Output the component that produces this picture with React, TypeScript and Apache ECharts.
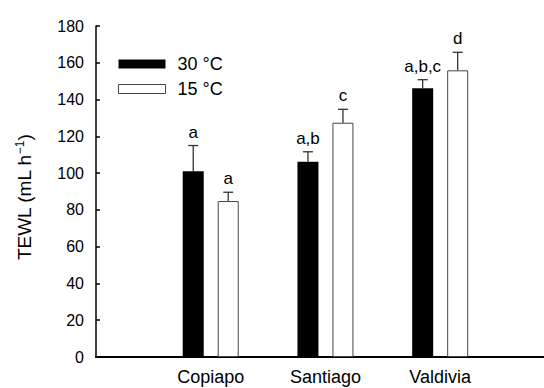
import React, { useEffect, useRef } from "react";
import * as echarts from "echarts";

const categories = ["", "Copiapo", "Santiago", "Valdivia"];
const tewl30 = [null, 101, 106.2, 146.1];
const tewl15 = [null, 84.8, 127.4, 155.9];
const err30 = [null, 14, 5.4, 4.7];
const err15 = [null, 4.8, 7.3, 9.8];
const letters30 = ["", "a", "a,b", "a,b,c"];
const letters15 = ["", "a", "c", "d"];
const seriesNames = ["30 °C", "15 °C"];
const yTicks = { min: 0, max: 180, interval: 20 };

const FONT = "'Liberation Sans', Arial, Helvetica, sans-serif";

function pairs(values: (number | null)[]) {
  const out: number[][] = [];
  values.forEach((v, i) => {
    if (v != null) out.push([i, v]);
  });
  return out;
}

function errData(means: (number | null)[], errs: (number | null)[]) {
  const out: number[][] = [];
  means.forEach((m, i) => {
    if (m != null && errs[i] != null) out.push([i, m, errs[i] as number]);
  });
  return out;
}

function errSeries(means: (number | null)[], errs: (number | null)[], letters: string[], offset: number) {
  const data = errData(means, errs);
  return {
    type: "custom",
    z: 10,
    data,
    renderItem: (params: any, api: any) => {
      const idx = api.value(0);
      const m = api.value(1);
      const e = api.value(2);
      const base = api.coord([idx, m]);
      const top = api.coord([idx, m + e]);
      const x = base[0] + offset;
      const label = letters[idx];
      return {
        type: "group",
        children: [
          { type: "line", shape: { x1: x, y1: base[1], x2: x, y2: top[1] }, style: { stroke: "#333", lineWidth: 1.3 } },
          { type: "line", shape: { x1: x - 5, y1: top[1], x2: x + 5, y2: top[1] }, style: { stroke: "#333", lineWidth: 1.3 } },
          {
            type: "text",
            x,
            y: top[1] - 5,
            style: { text: label, align: "center", verticalAlign: "bottom", fontSize: 17, fontFamily: FONT, fill: "#000" },
          },
        ],
      };
    },
  };
}

export default function App() {
  const ref = useRef<HTMLDivElement>(null);
  useEffect(() => {
    if (!ref.current) return;
    const chart = echarts.init(ref.current, null, { renderer: "svg" });
    chart.setOption({
      animation: false,
      backgroundColor: "#fff",
      grid: { left: 96, top: 26, right: 0, height: 331 },
      legend: {
        orient: "vertical",
        left: 118,
        top: 54,
        padding: 0,
        itemWidth: 47,
        itemHeight: 9,
        itemGap: 5,
        icon: "rect",
        textStyle: { fontSize: 18, fontFamily: FONT, color: "#000", lineHeight: 20, padding: [0, 0, 0, 7] },
        data: [
          { name: seriesNames[0], itemStyle: { color: "#000", borderColor: "#000", borderWidth: 0 } },
          { name: seriesNames[1], itemStyle: { color: "#fff", borderColor: "#444", borderWidth: 1 } },
        ],
      },
      xAxis: {
        type: "value",
        min: 0,
        max: 3.905,
        interval: 1,
        axisLine: { show: true, lineStyle: { color: "#000", width: 2 } },
        axisTick: { show: false },
        axisLabel: {
          fontSize: 18,
          fontFamily: FONT,
          color: "#000",
          margin: 11,
          showMaxLabel: false,
          formatter: (v: number) => categories[Math.round(v)] ?? "",
        },
        splitLine: { show: false },
      },
      yAxis: {
        type: "value",
        min: yTicks.min,
        max: yTicks.max,
        interval: yTicks.interval,
        name: "TEWL (mL h{sup|−1})",
        nameLocation: "middle",
        nameRotate: 90,
        nameGap: 62,
        nameTextStyle: {
          fontSize: 19,
          fontFamily: FONT,
          color: "#000",
          padding: [0, 12, 0, 0],
          rich: { sup: { fontSize: 12, fontFamily: FONT, color: "#000", verticalAlign: "top", padding: [0, 0, 8, 0] } },
        },
        axisLine: { show: true, lineStyle: { color: "#000", width: 1.5 } },
        axisTick: { show: true, inside: true, length: 4, lineStyle: { color: "#000", width: 1.5 } },
        axisLabel: { fontSize: 16, fontFamily: FONT, color: "#000", margin: 12 },
        splitLine: { show: false },
      },
      series: [
        {
          name: seriesNames[0],
          type: "bar",
          data: pairs(tewl30),
          barWidth: 21,
          barGap: "66.7%",
          itemStyle: { color: "#000" },
        },
        {
          name: seriesNames[1],
          type: "bar",
          data: pairs(tewl15),
          barWidth: 21,
          barGap: "66.7%",
          itemStyle: { color: "#fff", borderColor: "#444", borderWidth: 1 },
        },
        errSeries(tewl30, err30, letters30, -17.5),
        errSeries(tewl15, err15, letters15, 17.5),
      ],
    });
    return () => chart.dispose();
  }, []);
  return <div ref={ref} style={{ position: "absolute", left: 0, top: 0, width: 544, height: 388 }} />;
}
